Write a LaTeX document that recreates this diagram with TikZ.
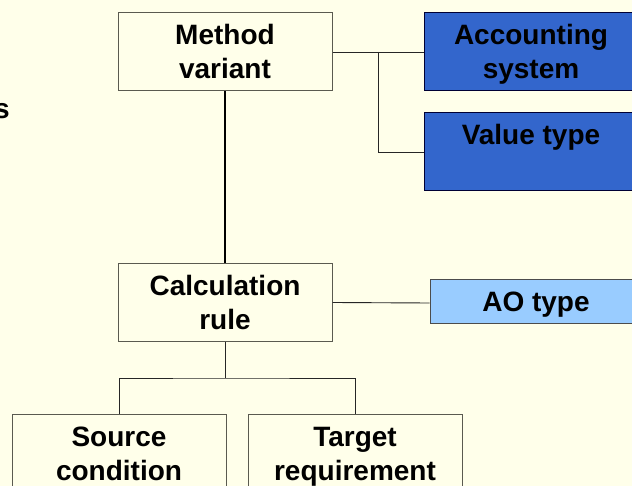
\documentclass[tikz,border=0pt]{standalone}
\usepackage{fontspec}
\setmainfont{Liberation Sans}
\definecolor{bgc}{HTML}{FFFFEA}
\definecolor{dblue}{HTML}{3366CC}
\definecolor{lblue}{HTML}{99CCFF}
\definecolor{edgec}{HTML}{5A5A50}
\newcommand{\bxl}[1]{\rule{0pt}{20pt}\smash{#1}}
\tikzset{
  boxtxt/.style={font=\bfseries\fontsize{28}{34}\selectfont, align=center, inner sep=0pt, text=black},
  ybox/.style={boxtxt, draw=edgec, fill=bgc, line width=1pt, minimum width=214, minimum height=78},
  bbox/.style={boxtxt, draw=black!80!blue, fill=dblue, line width=1pt, minimum width=214, minimum height=78},
  abox/.style={boxtxt, draw=black!70, fill=lblue, line width=1pt, minimum width=212, minimum height=44},
  conn/.style={draw=black!85, line width=0.9pt},
  thick conn/.style={draw=black, line width=2pt}
}
\begin{document}
\begin{tikzpicture}[x=1pt,y=-1pt]
\fill[bgc] (0,0) rectangle (632,486);
\useasboundingbox (0,0) rectangle (632,486);
\clip (0,0) rectangle (632,486);
\node[boxtxt, anchor=base east] (s) at (10,119) {s};
\node[ybox] (mv) at (225,52) {\bxl{Method}\\\bxl{variant}};
\node[bbox] (acc) at (531,52) {\bxl{Accounting}\\\bxl{system}};
\node[bbox] (val) at (531,152) {\bxl{Value type}\\\bxl{}};
\node[ybox] (cr) at (225,302.5) {\bxl{Calculation}\\\bxl{rule}};
\node[abox] (ao) at (536,302) {\bxl{AO type}};
\node[ybox] (src) at (119,453) {\bxl{Source}\\\bxl{condition}};
\node[ybox] (tgt) at (355,453) {\bxl{Target}\\\bxl{requirement}};
\coordinate (j1) at (378,52);
\coordinate (j2) at (225,378);
\draw[conn] (mv.east) -- (acc.west);
\draw[conn] (j1) |- (val.west);
\draw[thick conn] (mv.south) -- (cr.north);
\draw[conn] (cr.east) -- ([yshift=-1]ao.west);
\draw[conn] (cr.south) -- (j2);
\draw[conn] (src.north) |- (j2) -| (tgt.north);
\end{tikzpicture}
\end{document}
